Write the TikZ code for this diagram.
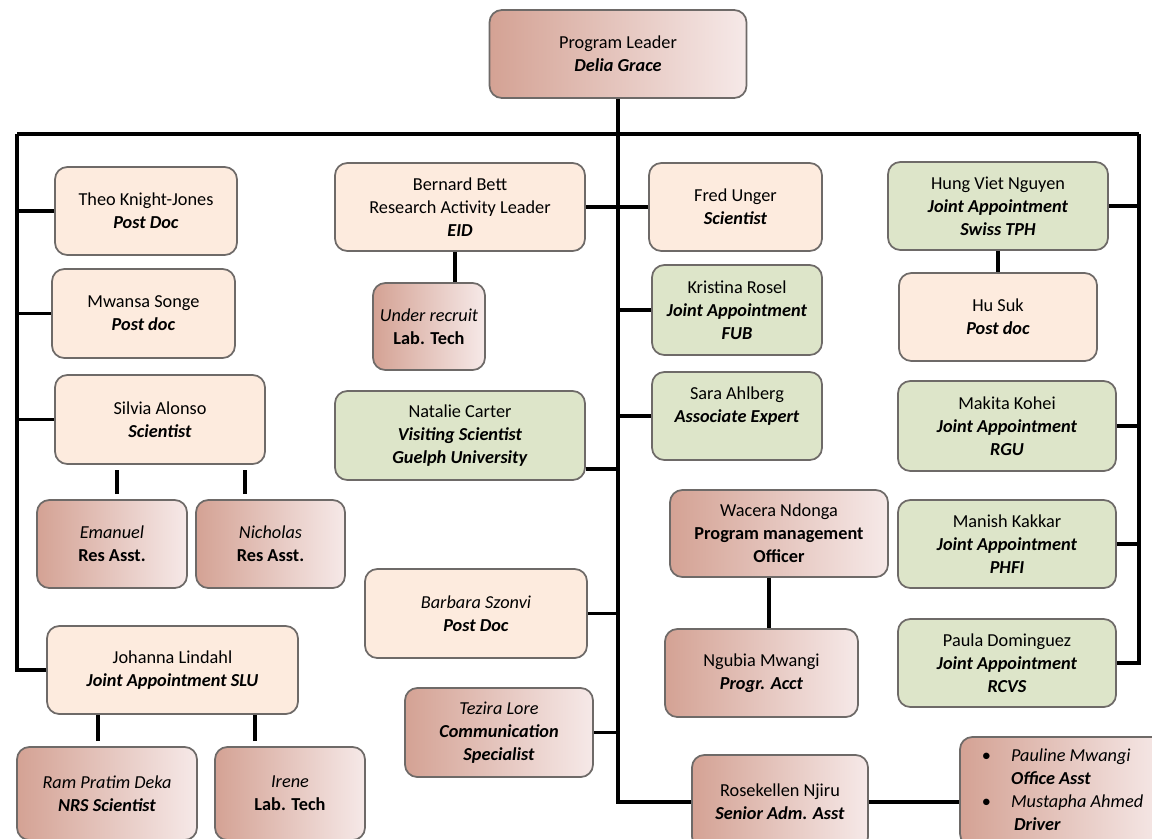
\documentclass[tikz,border=0pt]{standalone}
\usepackage{fontspec}
\setmainfont{Carlito}
\definecolor{edge}{RGB}{110,106,104}
\definecolor{peachfill}{RGB}{253,235,222}
\definecolor{greenfill}{RGB}{221,229,201}
\definecolor{roseleft}{RGB}{212,162,148}
\definecolor{roseright}{RGB}{246,233,232}
\newcommand{\boldit}[1]{\textbf{\textit{#1}}}

\begin{document}
\begin{tikzpicture}[
  box/.style={rectangle, rounded corners=7pt, draw=edge, line width=1pt, align=center, inner sep=1pt, font=\fontsize{10.4}{13}\selectfont},
  peachbox/.style={box, fill=peachfill},
  greenbox/.style={box, fill=greenfill},
  rosebox/.style={box, left color=roseleft, right color=roseright},
  link/.style={line width=2pt}
]
\useasboundingbox (0,0) rectangle (23.04,-16.76);

\node[rosebox, minimum width=5.14cm, minimum height=1.76cm] (1) at (12.36,-1.08) {Program Leader\\ \boldit{Delia Grace}};
\node[peachbox, minimum width=3.64cm, minimum height=1.76cm] (2) at (2.92,-4.22) {Theo Knight-Jones\\ \boldit{Post Doc}};
\node[peachbox, minimum width=5.0cm, minimum height=1.76cm] (3) at (9.2,-4.14) {Bernard Bett\\ Research Activity Leader\\ \boldit{EID}};
\node[peachbox, minimum width=3.46cm, minimum height=1.76cm] (4) at (14.71,-4.14) {Fred Unger\\ \boldit{Scientist}};
\node[greenbox, minimum width=4.4cm, minimum height=1.76cm] (5) at (19.96,-4.12) {Hung Viet Nguyen\\ \boldit{Joint Appointment}\\ \boldit{Swiss TPH}};
\node[peachbox, minimum width=3.66cm, minimum height=1.78cm] (6) at (2.87,-6.27) {Mwansa Songe\\ \boldit{Post doc}};
\node[rosebox, minimum width=2.24cm, minimum height=1.74cm] (7) at (8.58,-6.53) {\textit{Under recruit}\\ \textbf{Lab. Tech}};
\node[greenbox, minimum width=3.4cm, minimum height=1.8cm] (8) at (14.74,-6.2) {Kristina Rosel\\ \boldit{Joint Appointment}\\ \boldit{FUB}};
\node[peachbox, minimum width=3.96cm, minimum height=1.76cm] (9) at (19.96,-6.34) {Hu Suk\\ \boldit{Post doc}};
\node[peachbox, minimum width=4.2cm, minimum height=1.78cm] (10) at (3.2,-8.39) {Silvia Alonso\\ \boldit{Scientist}};
\node[greenbox, minimum width=5.0cm, minimum height=1.78cm] (11) at (9.2,-8.71) {Natalie Carter\\ \boldit{Visiting Scientist}\\ \boldit{Guelph University}};
\node[greenbox, minimum width=3.4cm, minimum height=1.76cm] (12) at (14.74,-8.32) {Sara Ahlberg\\ \boldit{Associate Expert}\\ \mbox{}};
\node[greenbox, minimum width=4.36cm, minimum height=1.8cm] (13) at (20.14,-8.52) {Makita Kohei\\ \boldit{Joint Appointment}\\ \boldit{RGU}};
\node[rosebox, minimum width=3.0cm, minimum height=1.76cm] (14) at (2.24,-10.88) {\textit{Emanuel}\\ \textbf{Res Asst.}};
\node[rosebox, minimum width=2.98cm, minimum height=1.76cm] (15) at (5.41,-10.88) {\textit{Nicholas}\\ \textbf{Res Asst.}};
\node[rosebox, minimum width=4.36cm, minimum height=1.74cm] (16) at (15.58,-10.67) {Wacera Ndonga\\ \textbf{Program management}\\ \textbf{Officer}};
\node[greenbox, minimum width=4.36cm, minimum height=1.76cm] (17) at (20.14,-10.88) {Manish Kakkar\\ \boldit{Joint Appointment}\\ \boldit{PHFI}};
\node[peachbox, minimum width=4.44cm, minimum height=1.78cm] (18) at (9.52,-12.27) {\textit{Barbara Szonvi}\\ \boldit{Post Doc}};
\node[greenbox, minimum width=4.36cm, minimum height=1.76cm] (19) at (20.14,-13.26) {Paula Dominguez\\ \boldit{Joint Appointment}\\ \boldit{RCVS}};
\node[peachbox, minimum width=5.02cm, minimum height=1.76cm] (20) at (3.45,-13.4) {Johanna Lindahl\\ \boldit{Joint Appointment SLU}};
\node[rosebox, minimum width=3.86cm, minimum height=1.76cm] (21) at (15.23,-13.46) {Ngubia Mwangi\\ \boldit{Progr. Acct}};
\node[rosebox, minimum width=3.76cm, minimum height=1.78cm] (22) at (9.98,-14.65) {\textit{Tezira Lore}\\ \boldit{Communication}\\ \boldit{Specialist}};
\node[rosebox, minimum width=3.6cm, minimum height=1.86cm] (23) at (2.14,-15.87) {\textit{Ram Pratim Deka}\\ \boldit{NRS Scientist}};
\node[rosebox, minimum width=3.0cm, minimum height=1.86cm] (24) at (5.8,-15.87) {\textit{Irene}\\ \textbf{Lab. Tech}};
\node[rosebox, minimum width=3.52cm, minimum height=1.88cm] (25) at (15.6,-16.04) {Rosekellen Njiru\\ \boldit{Senior Adm. Asst}};
\node[rosebox, minimum width=4.1cm, minimum height=2.18cm] (26) at (21.25,-15.83) {\begin{tabular}{@{}l@{\hspace{1.1em}}l@{}}
\textbullet & \textit{Pauline Mwangi}\\
 & \boldit{Office Asst}\\
\textbullet & \textit{Mustapha Ahmed}\\
 & \,\boldit{Driver}
\end{tabular}};

\coordinate (tl) at (0.34,-2.68);
\coordinate (tc) at (12.36,-2.68);
\coordinate (tr) at (22.78,-2.68);

\draw[link] (1) -- (tc);
\draw[link] (tl) -- (tr);
\draw[link] (tl) |- (20);
\draw[link] (tr) |- (19);
\draw[link] (tc) |- (25);

\draw[link] (2) -- (2 -| tl);
\draw[link] (6) -- (6 -| tl);
\draw[link] (10) -- (10 -| tl);

\draw[link] (3) -- (4);
\draw[link] (8) -- (8 -| tc);
\draw[link] (12) -- (12 -| tc);
\draw[link] ([yshift=-0.67cm]11.east) -- ([yshift=-0.67cm]11.east -| tc);
\draw[link] (18) -- (18 -| tc);
\draw[link] (22) -- (22 -| tc);

\draw[link] (5) -- (5 -| tr);
\draw[link] (13) -- (13 -| tr);
\draw[link] (17) -- (17 -| tr);
\draw[link] (5) -- (9);

\draw[link] ([xshift=-0.1cm]3.south) -- ([xshift=-0.1cm]3.south |- 7.north);
\draw[link] ([xshift=-0.2cm]16.south) -- ([xshift=-0.2cm]16.south |- 21.north);
\draw[link] ([xshift=0.1cm,yshift=0.1cm]14.north) -- ++(0,0.48);
\draw[link] ([xshift=-0.51cm,yshift=0.1cm]15.north) -- ++(0,0.48);
\draw[link] ([xshift=-0.18cm,yshift=0.1cm]23.north) -- ([xshift=-0.18cm]23.north |- 20.south);
\draw[link] ([xshift=-0.7cm,yshift=0.1cm]24.north) -- ([xshift=-0.7cm]24.north |- 20.south);
\draw[link] (25) -- (25 -| 26.west);
\end{tikzpicture}
\end{document}
